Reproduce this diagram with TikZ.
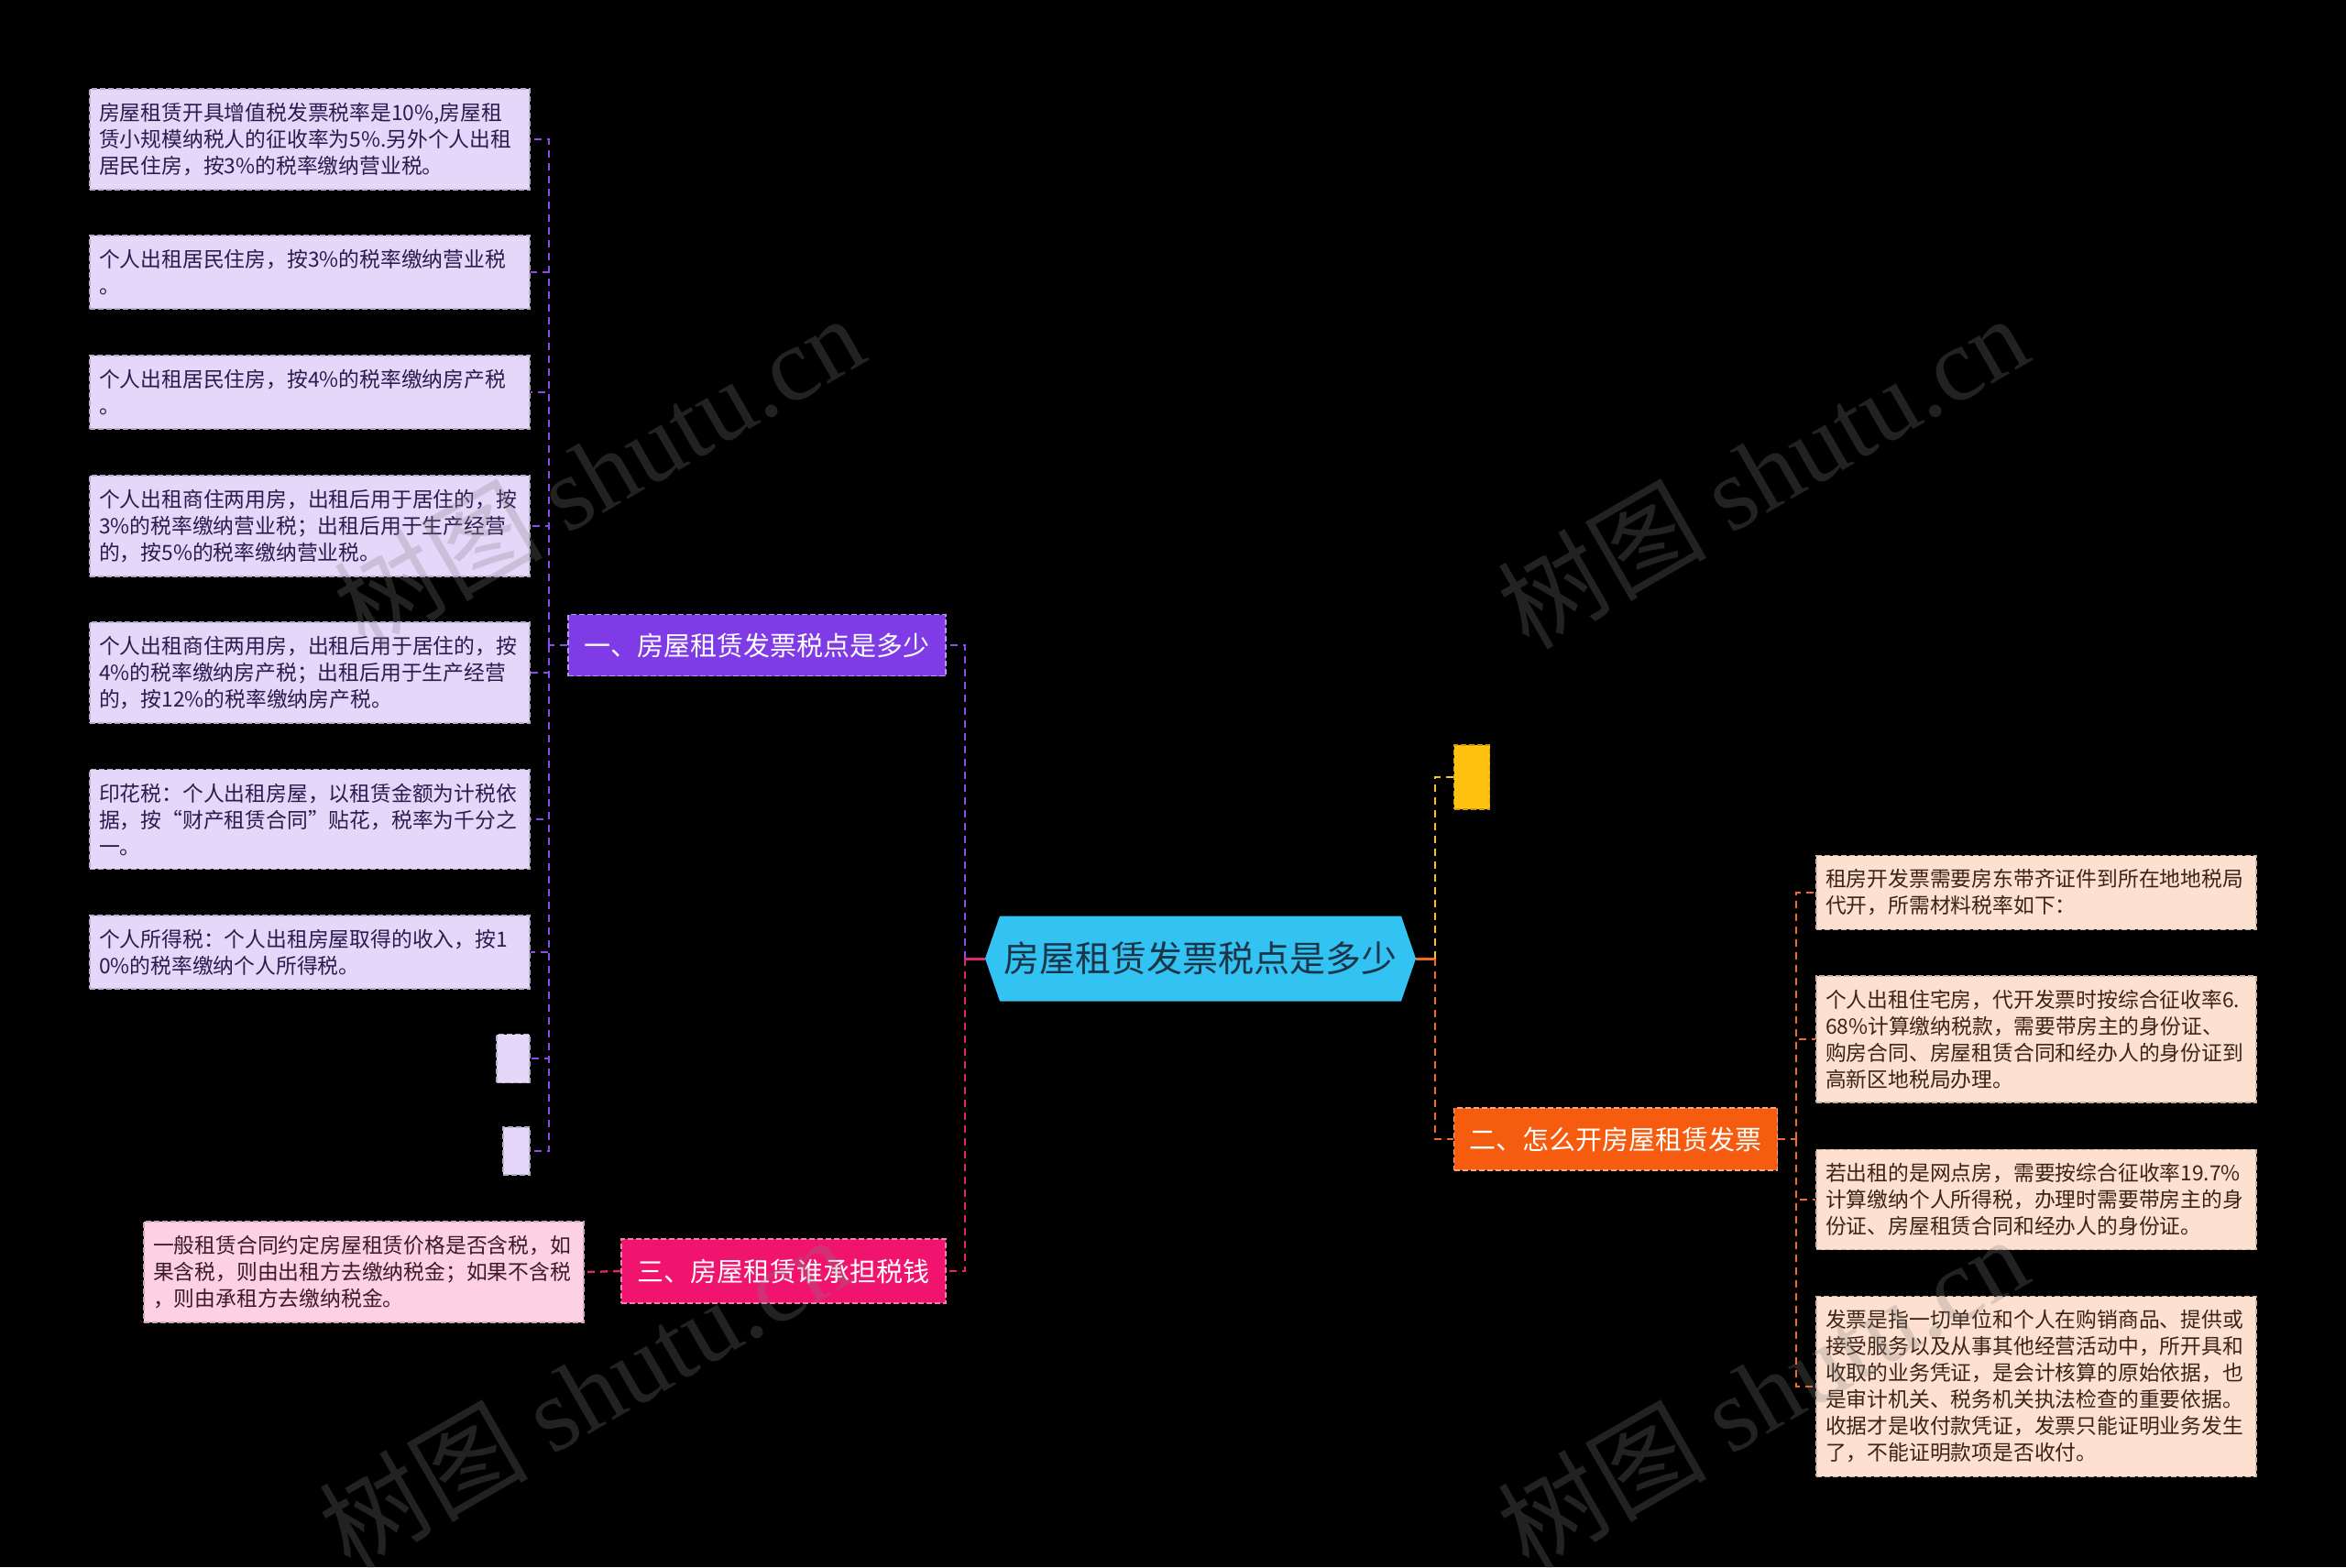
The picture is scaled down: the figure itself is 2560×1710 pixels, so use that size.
\documentclass[tikz,border=0pt]{standalone}
\usepackage{fontspec}
\setmainfont{Noto Sans CJK SC}
\newfontfamily\markserif{Liberation Serif}
\usetikzlibrary{shapes.symbols}
\definecolor{rootc}{HTML}{33C3F2}
\definecolor{roott}{HTML}{1C3447}
\definecolor{purb}{HTML}{7F3CE6}
\definecolor{purl}{HTML}{8A4DEB}
\definecolor{purf}{HTML}{E4D7FA}
\definecolor{purt}{HTML}{2B1B4E}
\definecolor{pinb}{HTML}{F0146F}
\definecolor{pinl}{HTML}{E0266F}
\definecolor{pinf}{HTML}{FDD0E4}
\definecolor{pint}{HTML}{3B1A2A}
\definecolor{orab}{HTML}{F55C10}
\definecolor{oral}{HTML}{F26A25}
\definecolor{oraf}{HTML}{FDE0D0}
\definecolor{orat}{HTML}{3A2418}
\definecolor{yelb}{HTML}{FFC210}
\begin{document}
\begin{tikzpicture}[x=0.5pt,y=-0.5pt,
	leaf/.style 2 args={rectangle,fill=#1,text=#2,draw=#1!80!black,
	dash pattern=on 3pt off 1.5pt,line width=0.8pt,
	text width=230pt,inner xsep=5pt,inner ysep=7.5pt,align=left,
	font=\fontsize{11.4}{14.5}\selectfont},
	blank/.style={rectangle,fill=#1,draw=#1!80!black,
	dash pattern=on 3pt off 1.5pt,line width=0.8pt,inner sep=0pt},
	branch/.style={rectangle,fill=#1,draw=#1!55!white,
	dash pattern=on 3pt off 1.5pt,line width=0.8pt,inner sep=0pt,
	text=white,font=\fontsize{14.5}{16}\selectfont},
	link/.style={#1,line width=1.2pt,dash pattern=on 4pt off 3pt},
	watermark/.style={rotate=30,text=gray,opacity=0.27,font=\fontsize{57}{60}\selectfont}]
\fill[black] (0,0) rectangle (2560,1710);
\useasboundingbox (0,0) rectangle (2560,1710);

\node[signal,signal to=west and east,signal pointer angle=142,fill=rootc,
	minimum width=235pt,minimum height=46.5pt,inner sep=0pt,text=roott,
	font=\fontsize{19.5}{22}\selectfont] (root) at (1310,1046) {房屋租赁发票税点是多少};

\node[branch=purb,minimum width=206pt,minimum height=33.5pt] (tax) at (826,704) {一、房屋租赁发票税点是多少};
\node[branch=orab,minimum width=176.5pt,minimum height=34pt] (how) at (1763,1243) {二、怎么开房屋租赁发票};
\node[branch=pinb,minimum width=177pt,minimum height=35pt] (who) at (855,1387) {三、房屋租赁谁承担税钱};
\node[blank=yelb,minimum width=19.5pt,minimum height=35pt] (yel) at (1606,848) {};

\node[leaf={purf}{purt}] (tax1) at (338,152) {房屋租赁开具增值税发票税率是10\%,房屋租\\赁小规模纳税人的征收率为5\%.另外个人出租\\居民住房，按3\%的税率缴纳营业税。};
\node[leaf={purf}{purt}] (tax2) at (338,297) {个人出租居民住房，按3\%的税率缴纳营业税\\。};
\node[leaf={purf}{purt}] (tax3) at (338,428) {个人出租居民住房，按4\%的税率缴纳房产税\\。};
\node[leaf={purf}{purt}] (tax4) at (338,574) {个人出租商住两用房，出租后用于居住的，按\\3\%的税率缴纳营业税；出租后用于生产经营\\的，按5\%的税率缴纳营业税。};
\node[leaf={purf}{purt}] (tax5) at (338,734) {个人出租商住两用房，出租后用于居住的，按\\4\%的税率缴纳房产税；出租后用于生产经营\\的，按12\%的税率缴纳房产税。};
\node[leaf={purf}{purt}] (tax6) at (338,894) {印花税：个人出租房屋，以租赁金额为计税依\\据，按“财产租赁合同”贴花，税率为千分之\\一。};
\node[leaf={purf}{purt}] (tax7) at (338,1039) {个人所得税：个人出租房屋取得的收入，按1\\0\%的税率缴纳个人所得税。};
\node[blank=purf,minimum width=18pt,minimum height=26.5pt] (tax8) at (560,1155) {};
\node[blank=purf,minimum width=14.5pt,minimum height=26pt] (tax9) at (563.5,1256) {};

\node[leaf={pinf}{pint}] (who1) at (397,1388) {一般租赁合同约定房屋租赁价格是否含税，如\\果含税，则由出租方去缴纳税金；如果不含税\\，则由承租方去缴纳税金。};

\node[leaf={oraf}{orat}] (how1) at (2222,974) {租房开发票需要房东带齐证件到所在地地税局\\代开，所需材料税率如下：};
\node[leaf={oraf}{orat}] (how2) at (2222,1134) {个人出租住宅房，代开发票时按综合征收率6.\\68\%计算缴纳税款，需要带房主的身份证、\\购房合同、房屋租赁合同和经办人的身份证到\\高新区地税局办理。};
\node[leaf={oraf}{orat}] (how3) at (2222,1309) {若出租的是网点房，需要按综合征收率19.7\%\\计算缴纳个人所得税，办理时需要带房主的身\\份证、房屋租赁合同和经办人的身份证。};
\node[leaf={oraf}{orat}] (how4) at (2222,1513) {发票是指一切单位和个人在购销商品、提供或\\接受服务以及从事其他经营活动中，所开具和\\收取的业务凭证，是会计核算的原始依据，也\\是审计机关、税务机关执法检查的重要依据。\\收据才是收付款凭证，发票只能证明业务发生\\了，不能证明款项是否收付。};

\coordinate (lhub) at (1053,1046);
\coordinate (rhub) at (1566,1046);
\coordinate (taxhub) at (599,704);
\coordinate (howhub) at (1960,1243);

\draw[pinl,line width=1.5pt] (root.west) -- (lhub);
\draw[oral,line width=1.5pt] (root.east) -- (rhub);
\draw[link=purl] (lhub) |- (tax.east);
\draw[link=pinl] (lhub) |- (who.east);
\draw[link=yelb] (rhub) |- (yel.west);
\draw[link=oral] (rhub) |- (how.west);

\draw[link=purl] (tax.west) -- (taxhub);
\draw[link=purl] (taxhub) |- (tax1.east);
\draw[link=purl] (taxhub) |- (tax2.east);
\draw[link=purl] (taxhub) |- (tax3.east);
\draw[link=purl] (taxhub) |- (tax4.east);
\draw[link=purl] (taxhub) |- (tax5.east);
\draw[link=purl] (taxhub) |- (tax6.east);
\draw[link=purl] (taxhub) |- (tax7.east);
\draw[link=purl] (taxhub) |- (tax8.east);
\draw[link=purl] (taxhub) |- (tax9.east);

\draw[link=pinl] (who.west) -- (who1.east);

\draw[link=oral] (how.east) -- (howhub);
\draw[link=oral] (howhub) |- (how1.west);
\draw[link=oral] (howhub) |- (how2.west);
\draw[link=oral] (howhub) |- (how3.west);
\draw[link=oral] (howhub) |- (how4.west);

\node[watermark] at (653,514) {树图 {\markserif shutu.cn}};
\node[watermark] at (1923,514) {树图 {\markserif shutu.cn}};
\node[watermark] at (637,1519) {树图 {\markserif shutu.cn}};
\node[watermark] at (1923,1519) {树图 {\markserif shutu.cn}};
\end{tikzpicture}
\end{document}
